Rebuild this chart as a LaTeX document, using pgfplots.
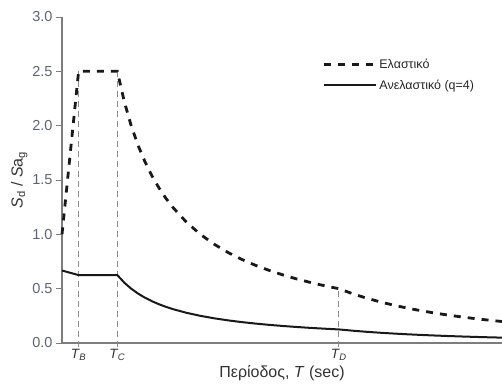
\documentclass[border=0pt]{standalone}
\usepackage{pgfplots}
\pgfplotsset{compat=1.18}
\usepackage{fontspec}
\setmainfont{Liberation Sans}
\definecolor{ticklab}{RGB}{95,100,115}
\definecolor{axgray}{RGB}{125,125,125}
\definecolor{vgray}{RGB}{140,140,140}
\definecolor{curve}{RGB}{25,25,25}
\newcommand{\Tsub}[1]{\textit{T}\textsubscript{\kern-0.05em\textit{#1}}}
\begin{document}
\begin{tikzpicture}
\begin{axis}[
  name=ax, at={(0,0)}, anchor=south west,
  scale only axis, width=440pt, height=326pt,
  xmin=0, xmax=3.18, ymin=0, ymax=3.0,
  axis x line=bottom, axis y line=left,
  axis line style={axgray, line width=1.3pt, -},
  ytick={0,0.5,1,1.5,2,2.5,3},
  yticklabel style={/pgf/number format/fixed, /pgf/number format/fixed zerofill, /pgf/number format/precision=1},
  /pgf/number format/assume math mode=true,
  xtick={0.12,0.4,2.0},
  xticklabels={\Tsub{B},\Tsub{C},\Tsub{D}},
  tick style={axgray, line width=1pt},
  tick align=outside,
  major tick length=6pt,
  x tick style={draw=none},
  ticklabel style={font=\fontsize{14.5}{16}\selectfont, text=ticklab},
  xticklabel style={font=\fontsize{13.5}{15}\selectfont, text=black!80, yshift=3pt},
  xlabel={Περίοδος, \textit{T} (sec)},
  ylabel={\textit{S}\textsubscript{d} / \textit{S}a\textsubscript{g}},
  label style={font=\fontsize{16}{18}\selectfont, text=black!80},
  xlabel style={yshift=3pt},
  ylabel style={yshift=-2pt},
  clip=false,
  legend style={draw=none, fill=none, at={(0.585,0.885)}, anchor=north west,
    font=\fontsize{12.5}{14}\selectfont, text=black!85, row sep=6pt,
    legend cell align=left},
  legend image code/.code={\draw[#1] (0pt,0pt) -- (52pt,0pt);},
]
% vertical marker lines
\addplot[vgray, line width=1.2pt, dash pattern=on 6pt off 4pt, forget plot] coordinates {(0.12,-0.04) (0.12,2.5)};
\addplot[vgray, line width=1.2pt, dash pattern=on 6pt off 4pt, forget plot] coordinates {(0.4,-0.04) (0.4,2.5)};
\addplot[vgray, line width=1.2pt, dash pattern=on 6pt off 4pt, forget plot] coordinates {(2.0,-0.04) (2.0,0.5)};
% elastic
\addplot[curve, line width=2.8pt, dash pattern=on 7pt off 7pt] coordinates {
(0,1.0) (0.12,2.5) (0.4,2.5) (0.45,2.222) (0.5,2.0) (0.55,1.818) (0.6,1.667)
(0.65,1.538) (0.7,1.429) (0.75,1.333) (0.8,1.25) (0.9,1.111) (1.0,1.0) (1.1,0.909)
(1.2,0.833) (1.3,0.769) (1.4,0.714) (1.5,0.667) (1.6,0.625) (1.7,0.588)
(1.8,0.556) (1.9,0.526) (2.0,0.5) (2.1,0.4535) (2.2,0.4132) (2.3,0.3781)
(2.4,0.3472) (2.5,0.32) (2.6,0.2959) (2.7,0.2743) (2.8,0.2551) (2.9,0.2378)
(3.0,0.2222) (3.1,0.2081) (3.18,0.1978)};
\addlegendentry{Ελαστικό}
% inelastic
\addplot[curve, line width=2pt] coordinates {
(0,0.667) (0.12,0.625) (0.4,0.625) (0.45,0.5556) (0.5,0.5) (0.55,0.4545)
(0.6,0.4167) (0.65,0.3846) (0.7,0.3571) (0.75,0.3333) (0.8,0.3125) (0.9,0.2778)
(1.0,0.25) (1.1,0.2273) (1.2,0.2083) (1.3,0.1923) (1.4,0.1786) (1.5,0.1667)
(1.6,0.1563) (1.7,0.1471) (1.8,0.1389) (1.9,0.1316) (2.0,0.125) (2.1,0.1134)
(2.2,0.1033) (2.3,0.0945) (2.4,0.0868) (2.5,0.08) (2.6,0.074) (2.7,0.0686)
(2.8,0.0638) (2.9,0.0595) (3.0,0.0556) (3.1,0.052) (3.18,0.0494)};
\addlegendentry{Ανελαστικό (q=4)}
\end{axis}
\pgfresetboundingbox
\path (-62pt,-46pt) rectangle (440pt,343pt);
\end{tikzpicture}
\end{document}
